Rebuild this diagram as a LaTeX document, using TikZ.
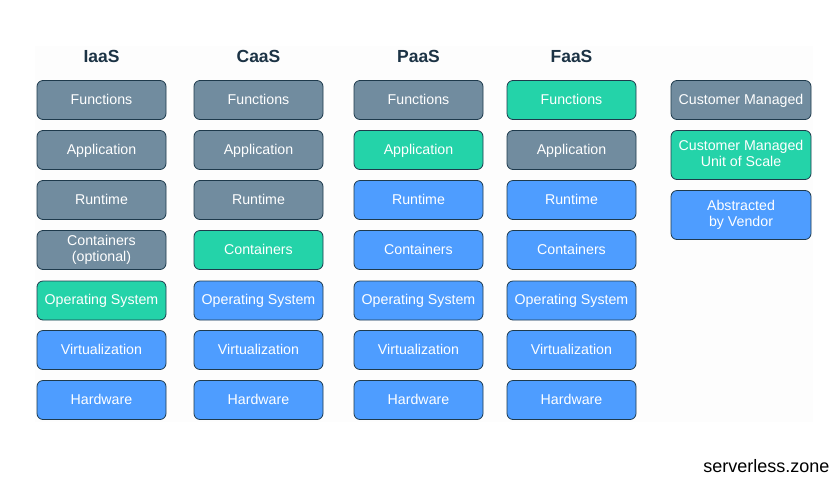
\documentclass[tikz,border=0pt]{standalone}
\usepackage{fontspec}
\setmainfont{Liberation Sans}
\definecolor{slate}{HTML}{718C9F}
\definecolor{mint}{HTML}{24D3A9}
\definecolor{vblue}{HTML}{4E9DFF}
\definecolor{edge}{HTML}{1E3A4C}
\definecolor{head}{HTML}{1C3345}
\definecolor{faint}{HTML}{FDFDFD}
\newcommand{\mystrut}{\rule[-2.5pt]{0pt}{14pt}}
\tikzset{
  layer/.style={draw=edge, line width=0.8pt, rounded corners=6pt, minimum width=129pt, minimum height=39pt, text=white, font=\fontsize{14.2}{16}\selectfont, align=center, inner sep=1pt, execute at begin node=\mystrut, execute at end node=\mystrut},
  custbox/.style={layer, fill=slate},
  unitbox/.style={layer, fill=mint},
  vendbox/.style={layer, fill=vblue},
  hdr/.style={font=\fontsize{17.5}{19}\selectfont\bfseries, text=head},
  legbox/.style={minimum width=140pt}
}
\begin{document}
\begin{tikzpicture}[x=1pt,y=-1pt]
\useasboundingbox (0,0) rectangle (840,480);
\fill[faint] (35,46) rectangle (813,422);
% headers
\node[hdr] (hI) at (101.5,56) {IaaS};
\node[hdr] (hC) at (258.5,56) {CaaS};
\node[hdr] (hP) at (418.5,56) {PaaS};
\node[hdr] (hF) at (571.5,56) {FaaS};
% IaaS
\node[custbox] (i1) at (101.5,100) {Functions};
\node[custbox] (i2) at (101.5,150) {Application};
\node[custbox] (i3) at (101.5,200) {Runtime};
\node[custbox] (i4) at (101.5,250) {Containers\\(optional)};
\node[unitbox] (i5) at (101.5,300.5) {Operating System};
\node[vendbox] (i6) at (101.5,350) {Virtualization};
\node[vendbox] (i7) at (101.5,400) {Hardware};
% CaaS
\node[custbox] (c1) at (258.5,100) {Functions};
\node[custbox] (c2) at (258.5,150) {Application};
\node[custbox] (c3) at (258.5,200) {Runtime};
\node[unitbox] (c4) at (258.5,250) {Containers};
\node[vendbox] (c5) at (258.5,300.5) {Operating System};
\node[vendbox] (c6) at (258.5,350) {Virtualization};
\node[vendbox] (c7) at (258.5,400) {Hardware};
% PaaS
\node[custbox] (p1) at (418.5,100) {Functions};
\node[unitbox] (p2) at (418.5,150) {Application};
\node[vendbox] (p3) at (418.5,200) {Runtime};
\node[vendbox] (p4) at (418.5,250) {Containers};
\node[vendbox] (p5) at (418.5,300.5) {Operating System};
\node[vendbox] (p6) at (418.5,350) {Virtualization};
\node[vendbox] (p7) at (418.5,400) {Hardware};
% FaaS
\node[unitbox] (f1) at (571.5,100) {Functions};
\node[custbox] (f2) at (571.5,150) {Application};
\node[vendbox] (f3) at (571.5,200) {Runtime};
\node[vendbox] (f4) at (571.5,250) {Containers};
\node[vendbox] (f5) at (571.5,300.5) {Operating System};
\node[vendbox] (f6) at (571.5,350) {Virtualization};
\node[vendbox] (f7) at (571.5,400) {Hardware};
% legend
\node[custbox,legbox] (l1) at (741,100) {Customer Managed};
\node[unitbox,legbox,minimum height=49pt] (l2) at (741,155) {Customer Managed\\Unit of Scale};
\node[vendbox,legbox,minimum height=49pt] (l3) at (741,215) {Abstracted\\by Vendor};
% footer
\node[font=\fontsize{18}{20}\selectfont, text=black, anchor=east] (ft) at (833,466) {serverless.zone};
\end{tikzpicture}
\end{document}
